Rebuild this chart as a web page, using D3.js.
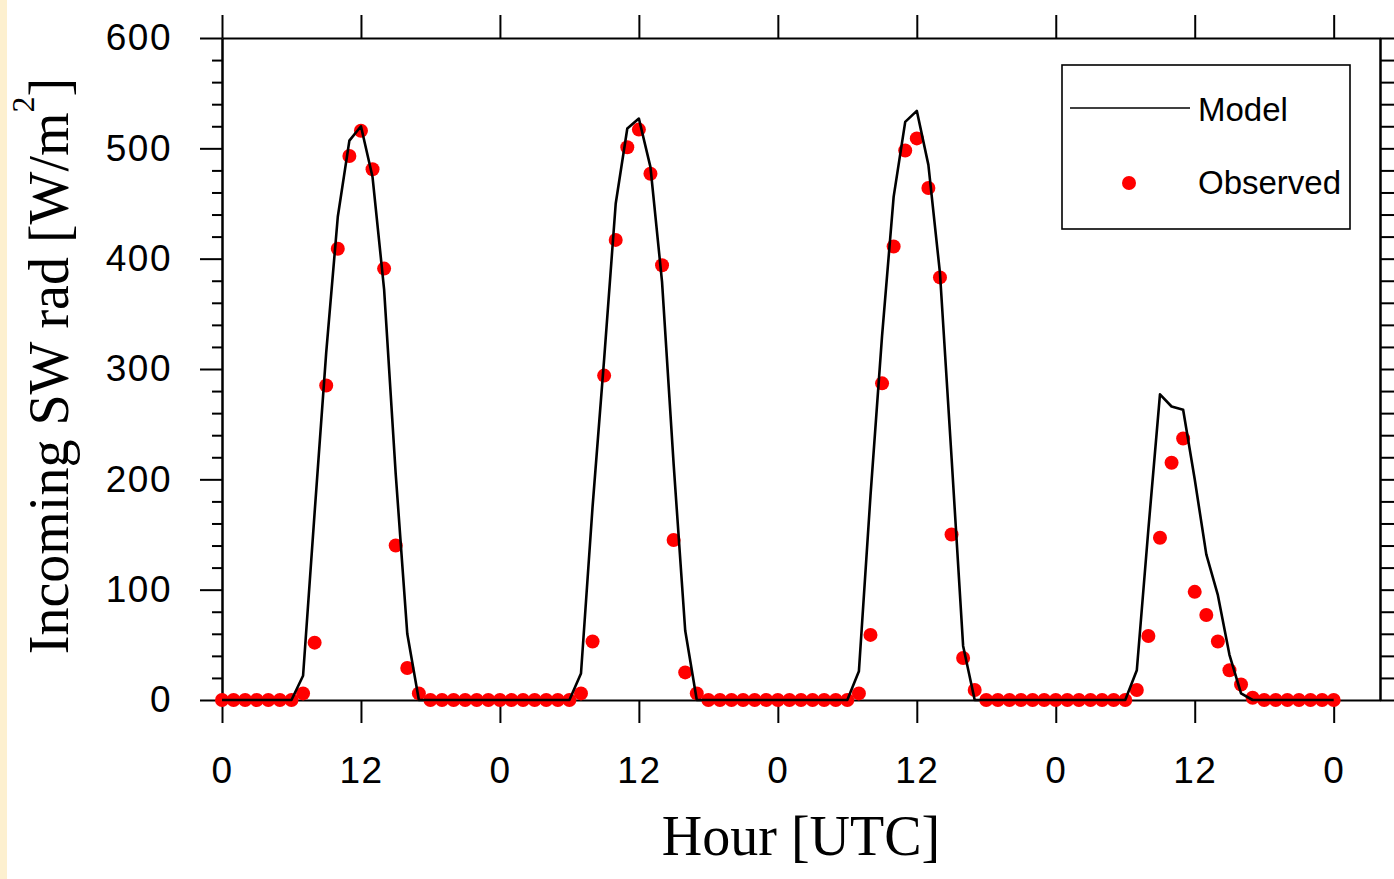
<!DOCTYPE html>
<html>
<head>
<meta charset="utf-8">
<script src="https://cdn.jsdelivr.net/npm/d3@7"></script>
<style>
  html, body { margin: 0; padding: 0; background: #fff; }
  svg { display: block; }
</style>
</head>
<body>
<svg id="chart" width="1394" height="879"></svg>
<script>
// Hourly incoming shortwave radiation [W/m2], 4 days (hour 0..96).
const modelSW = [
  0, 0, 0, 0, 0, 0, 0, 22, 170, 315, 438, 507, 520, 474, 372, 205, 60, 0, 0, 0, 0, 0, 0, 0,
  0, 0, 0, 0, 0, 0, 0, 24, 175, 309, 450, 518, 527, 483, 379, 214, 63, 0, 0, 0, 0, 0, 0, 0,
  0, 0, 0, 0, 0, 0, 0, 26, 185, 330, 456, 524, 534, 485, 387, 220, 49, 0, 0, 0, 0, 0, 0, 0,
  0, 0, 0, 0, 0, 0, 0, 27, 155, 277, 266, 263, 200, 132, 95, 41, 6, 0, 0, 0, 0, 0, 0, 0,
  0,
];
const observedSW = [
  0, 0, 0, 0, 0, 0, 0, 6, 52, 285, 409, 493, 516, 481, 391, 140, 29, 6, 0, 0, 0, 0, 0, 0,
  0, 0, 0, 0, 0, 0, 0, 6, 53, 294, 417, 501, 517, 477, 394, 145, 25, 6, 0, 0, 0, 0, 0, 0,
  0, 0, 0, 0, 0, 0, 0, 6, 59, 287, 411, 498, 509, 464, 383, 150, 38, 9, 0, 0, 0, 0, 0, 0,
  0, 0, 0, 0, 0, 0, 0, 9, 58, 147, 215, 237, 98, 77, 53, 27, 14, 2, 0, 0, 0, 0, 0, 0,
  0,
];
const xTicks = [0, 12, 24, 36, 48, 60, 72, 84, 96];
const xTickLabels = ["0", "12", "0", "12", "0", "12", "0", "12", "0"];
const yTicks = [0, 100, 200, 300, 400, 500, 600];
const legendItems = ["Model", "Observed"];

const svg = d3.select("#chart");
const sansFont = "'Liberation Sans', Arial, Helvetica, sans-serif";
const serifFont = "'Liberation Serif', 'Times New Roman', serif";

// Pale strip along the left edge of the slide.
svg.append("rect").attr("x", 0).attr("y", 0).attr("width", 7).attr("height", 879).attr("fill", "#fdf0cf");

const x = d3.scaleLinear().domain([0, 100]).range([222, 1380]);
const y = d3.scaleLinear().domain([0, 600]).range([700, 38]);
const yMinor = d3.range(0, 601, 20).filter((v) => v % 100 !== 0);

/**
 * Appends an axis group and applies the common line style.
 */
function drawAxis(axis, tx, ty) {
  const g = svg.append("g").attr("transform", `translate(${tx},${ty})`).call(axis);
  g.selectAll("line, path").attr("stroke", "#000").attr("stroke-width", 2);
  g.selectAll("text")
    .attr("fill", "#000")
    .style("font-family", sansFont)
    .style("font-size", "37px")
    .style("letter-spacing", "1.5px");
  return g;
}

// Bottom axis with hour-of-day labels.
drawAxis(
  d3.axisBottom(x).tickValues(xTicks).tickFormat((d, i) => xTickLabels[i]).tickSize(23).tickSizeOuter(0).tickPadding(34),
  0,
  700,
);
// Top axis, ticks only.
drawAxis(d3.axisTop(x).tickValues(xTicks).tickFormat("").tickSize(23).tickSizeOuter(0), 0, 38);
// Left axis, major and minor ticks.
drawAxis(d3.axisLeft(y).tickValues(yTicks).tickSize(22).tickSizeOuter(0).tickPadding(28), 222, 0);
drawAxis(d3.axisLeft(y).tickValues(yMinor).tickFormat("").tickSize(10).tickSizeOuter(0), 222, 0);
// Right axis, ticks only.
drawAxis(d3.axisRight(y).tickValues(yTicks).tickFormat("").tickSize(22).tickSizeOuter(0), 1380, 0);
drawAxis(d3.axisRight(y).tickValues(yMinor).tickFormat("").tickSize(14).tickSizeOuter(0), 1380, 0);

// Observed points.
svg
  .append("g")
  .selectAll("circle")
  .data(observedSW)
  .join("circle")
  .attr("cx", (d, i) => x(i))
  .attr("cy", (d) => y(d))
  .attr("r", 7)
  .attr("fill", "#ff0000");

// Model line.
const line = d3
  .line()
  .x((d, i) => x(i))
  .y((d) => y(d));
svg
  .append("path")
  .datum(modelSW)
  .attr("d", line)
  .attr("fill", "none")
  .attr("stroke", "#000")
  .attr("stroke-width", 2.6)
  .attr("stroke-linejoin", "round");

// Axis titles.
svg
  .append("text")
  .attr("x", x(50))
  .attr("y", 855)
  .attr("text-anchor", "middle")
  .style("font-family", serifFont)
  .style("font-size", "56px")
  .text("Hour [UTC]");

const yTitle = svg
  .append("text")
  .attr("transform", `translate(68,${(y(0) + y(600)) / 2 - 3}) rotate(-90)`)
  .attr("text-anchor", "middle")
  .style("font-family", serifFont)
  .style("font-size", "56px");
yTitle.append("tspan").text("Incoming SW rad [W/m");
yTitle.append("tspan").attr("dy", -34).style("font-size", "32px").text("2");
yTitle.append("tspan").attr("dy", 34).text("]");

// Legend box.
const legend = svg.append("g");
legend
  .append("rect")
  .attr("x", 1062)
  .attr("y", 65)
  .attr("width", 288)
  .attr("height", 164)
  .attr("fill", "#fff")
  .attr("stroke", "#000")
  .attr("stroke-width", 1.6);
legend
  .append("line")
  .attr("x1", 1070)
  .attr("x2", 1190)
  .attr("y1", 108)
  .attr("y2", 108)
  .attr("stroke", "#000")
  .attr("stroke-width", 1.6);
legend.append("circle").attr("cx", 1129).attr("cy", 183).attr("r", 7).attr("fill", "#ff0000");
legend
  .selectAll("text")
  .data(legendItems)
  .join("text")
  .attr("x", 1198)
  .attr("y", (d, i) => (i === 0 ? 121 : 194))
  .style("font-family", sansFont)
  .style("font-size", "33px")
  .text((d) => d);
</script>
</body>
</html>
